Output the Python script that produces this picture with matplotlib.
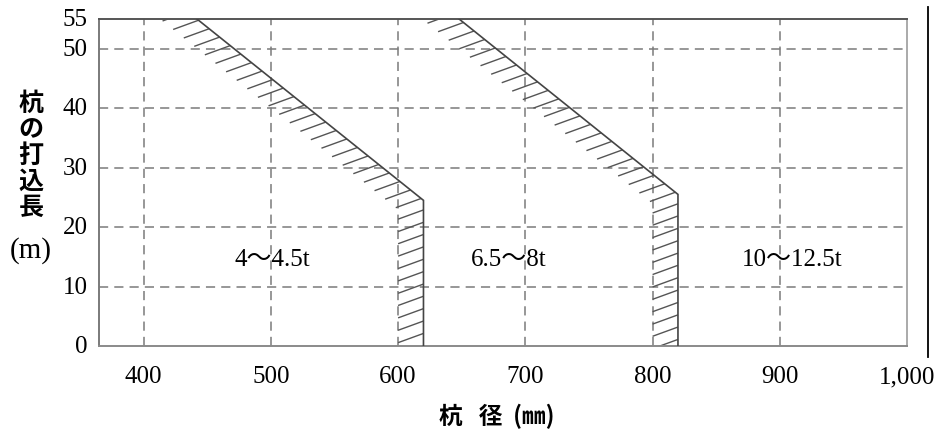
import matplotlib
matplotlib.use('Agg')
import matplotlib.pyplot as plt
import numpy as np
from matplotlib.collections import LineCollection
from matplotlib.lines import Line2D

# ---------------- data ----------------
x_ticks = [400, 500, 600, 700, 800, 900, 1000]
x_tick_labels = ['400', '500', '600', '700', '800', '900', '1,000']
y_ticks = [0, 10, 20, 30, 40, 50, 55]
y_tick_labels = ['0', '10', '20', '30', '40', '50', '55']

boundary_a_x = [442, 620, 620]
boundary_a_y = [55, 24.5, 0]
boundary_b_x = [648, 820, 820]
boundary_b_y = [55, 25.5, 0]

region_labels = ['4～4.5t', '6.5～8t', '10～12.5t']
region_x = [501, 687, 910]
region_y = [14.6, 14.6, 14.6]

y_label_chars = ['杭', 'の', '打', '込', '長']
y_label_unit = '(m)'
x_label = '杭   径  (㎜)'

# ---------------- figure ----------------
W, H, DPI = 937, 439, 100
fig = plt.figure(figsize=(W / DPI, H / DPI), dpi=DPI)
ax = fig.add_axes([99 / W, 1 - 347 / H, 808 / W, 327 / H])
ax.set_xlim(365, 1000)
ax.set_ylim(0, 55)

serif = ['Liberation Serif', 'Noto Sans CJK JP']
cjk = ['Noto Sans CJK JP', 'DejaVu Sans']

# grid
grid_kw = dict(color='#7a7a7a', lw=1.1, ls=(0, (6, 4)), zorder=1)
for xv in x_ticks[:-1]:
    ax.axvline(xv, **grid_kw)
for yv in y_ticks[1:-1]:
    ax.axhline(yv, **grid_kw)

# spines
ax.spines['top'].set_color('#555555')
ax.spines['left'].set_color('#7a7a7a')
ax.spines['bottom'].set_color('#8a8a8a')
ax.spines['right'].set_color('#aaaaaa')
for s in ax.spines.values():
    s.set_linewidth(1.4)

ax.set_xticks(x_ticks)
ax.set_xticklabels(x_tick_labels, fontfamily=serif, fontsize=18)
ax.set_yticks(y_ticks)
ax.set_yticklabels(y_tick_labels, fontfamily=serif, fontsize=18)
ax.tick_params(axis='x', length=0, pad=14)
ax.tick_params(axis='y', length=0, pad=8)
for lab in ax.get_yticklabels():
    lab.set_verticalalignment('center')

# boundaries with hatch ticks
theta = np.deg2rad(20)
d = np.array([np.cos(theta), np.sin(theta)])
nrm = np.array([-np.sin(theta), np.cos(theta)])
spacing = 11.6
tick_len = 27.0

fig.canvas.draw()
trans = ax.transData
inv = trans.inverted()


def hatch_segments(bx, by):
    pts = trans.transform(np.column_stack([bx, by]))
    v = pts[0] - pts[1]
    v = v / np.linalg.norm(v)
    pts = np.vstack([pts[0] + v * 30, pts[1:]])
    w = pts[-1] - pts[-2]
    w = w / np.linalg.norm(w)
    pts = np.vstack([pts[:-1], pts[-1] + w * 20])
    dense = []
    for p0, p1 in zip(pts[:-1], pts[1:]):
        n = int(np.linalg.norm(p1 - p0) / 0.2) + 1
        t = np.linspace(0, 1, n, endpoint=False)
        dense.append(p0 + np.outer(t, p1 - p0))
    dense = np.vstack(dense)
    k = dense @ nrm / spacing
    segs = []
    for i in range(1, len(k)):
        if np.floor(k[i]) != np.floor(k[i - 1]):
            p = dense[i]
            q = p - d * tick_len
            segs.append(inv.transform(np.array([p, q])))
    return segs


for bx, by in [(boundary_a_x, boundary_a_y), (boundary_b_x, boundary_b_y)]:
    segs = hatch_segments(bx, by)
    lc = LineCollection(segs, colors='#555555', linewidths=1.0, zorder=2)
    ax.add_collection(lc)
    ax.plot(bx, by, color='#444444', lw=1.2, zorder=3, solid_joinstyle='miter')

# region labels
for lbl, xv, yv in zip(region_labels, region_x, region_y):
    ax.text(xv, yv, lbl, ha='center', va='center', fontsize=18,
            fontfamily=serif, zorder=4)

# y label (vertical stacked)
fig.text(31 / W, 1 - 156 / H, '\n'.join(y_label_chars), ha='center', va='center',
         fontsize=18, fontfamily=cjk, fontweight='bold', linespacing=1.1)
fig.text(31 / W, 1 - 251 / H, y_label_unit, ha='center', va='center',
         fontsize=21, fontfamily=serif)

# x label
fig.text(497 / W, 1 - 416 / H, x_label, ha='center', va='center',
         fontsize=17, fontfamily=cjk, fontweight='bold')

# decorative page border line at right
fig.add_artist(Line2D([928 / W, 928 / W], [1 - 358 / H, 1 - 8 / H],
                      transform=fig.transFigure, color='black', lw=1.3))

fig.savefig('out.png', dpi=DPI)
